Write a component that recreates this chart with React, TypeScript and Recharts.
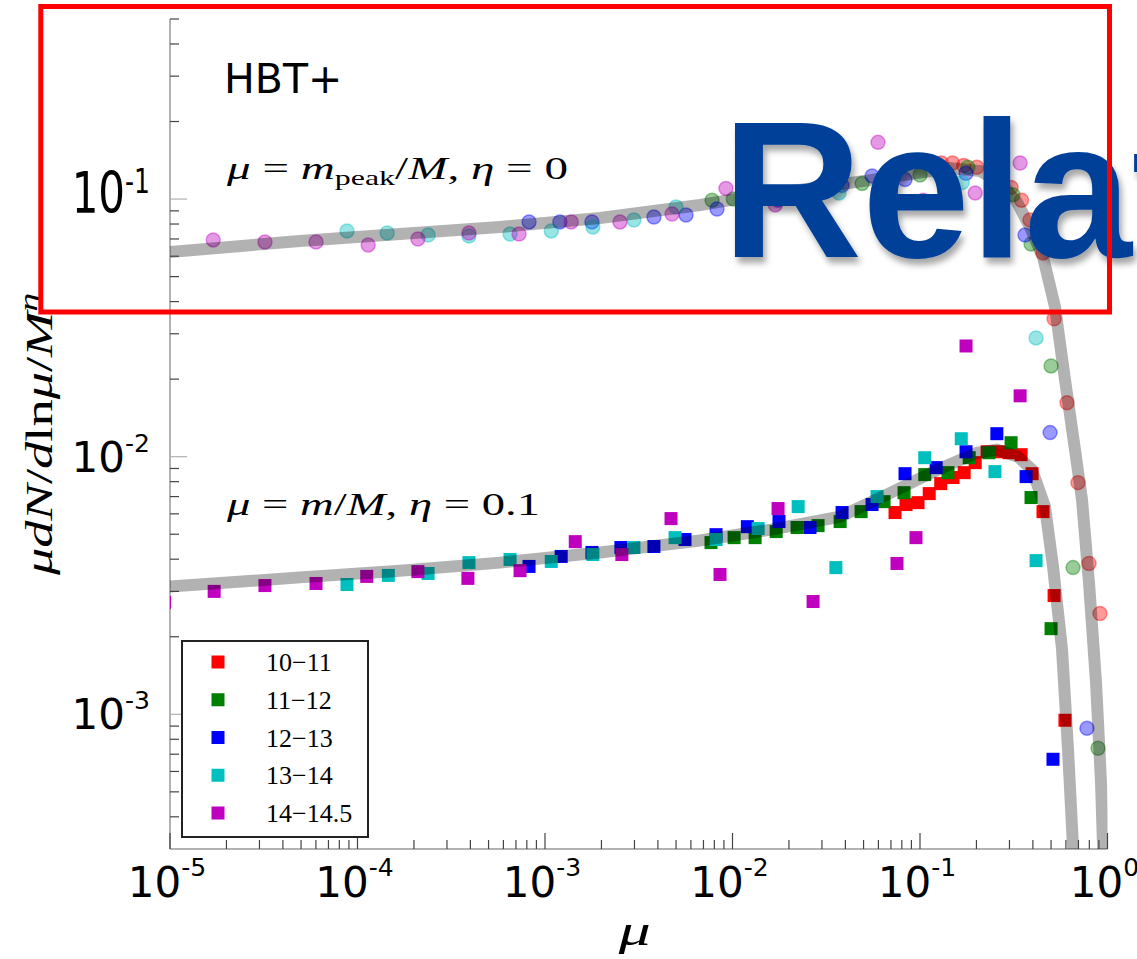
import React from 'react';
import { ComposedChart, Scatter, XAxis, YAxis, Legend } from 'recharts';

// host-halo mass bins (log10 M) and their matplotlib colours
const bins = ['10−11', '11−12', '12−13', '13−14', '14−14.5'];
const binColors = ['#ff0000', '#008000', '#0000ff', '#00bfbf', '#bf00bf'];

// mu = m_peak/M, eta = 0  -> circles, one list per bin: [mu, value]
const peakR = [[0.130, 0.138], [0.149, 0.138], [0.171, 0.135], [0.201, 0.133], [0.306, 0.111], [0.348, 0.099], [0.386, 0.083], [0.453, 0.0618], [0.519, 0.0343], [0.608, 0.0162], [0.696, 0.00793], [0.797, 0.00385], [0.912, 0.00246]];
const peakG = [[0.00778, 0.099], [0.0101, 0.100], [0.0491, 0.115], [0.100, 0.124], [0.180, 0.133], [0.313, 0.104], [0.391, 0.0669], [0.500, 0.0225], [0.655, 0.00371], [0.890, 0.000738]];
const peakB = [[0.000822, 0.0815], [0.00120, 0.0815], [0.00178, 0.0815], [0.00381, 0.0852], [0.00565, 0.0867], [0.00827, 0.0915], [0.0175, 0.099], [0.0384, 0.113], [0.0555, 0.123], [0.0832, 0.119], [0.176, 0.126], [0.363, 0.0725], [0.494, 0.0124], [0.777, 0.000882]];
const peakC = [[0.0000879, 0.0752], [0.000144, 0.0738], [0.000238, 0.0725], [0.000393, 0.0719], [0.000651, 0.0732], [0.00108, 0.0752], [0.00180, 0.0779], [0.00298, 0.083], [0.00500, 0.0931], [0.0370, 0.1055], [0.168, 0.116], [0.416, 0.0289]];
const peakM = [[0.0000170, 0.0694], [0.0000321, 0.0681], [0.0000601, 0.0681], [0.000114, 0.0663], [0.000210, 0.070], [0.000393, 0.0738], [0.000727, 0.0732], [0.00138, 0.0815], [0.00251, 0.0815], [0.00476, 0.0875], [0.00923, 0.110], [0.0169, 0.0948], [0.0597, 0.166], [0.104, 0.099], [0.197, 0.1055], [0.342, 0.138]];

// mu = m/M, eta = 0.1 -> squares
const boundR = [[0.0736, 0.00607], [0.0842, 0.00652], [0.0976, 0.00663], [0.112, 0.00719], [0.129, 0.00786], [0.150, 0.0083], [0.172, 0.00867], [0.197, 0.00948], [0.228, 0.01045], [0.264, 0.01045], [0.298, 0.01036], [0.346, 0.01018], [0.396, 0.00859], [0.453, 0.00612], [0.519, 0.00289], [0.593, 0.000948]];
const boundG = [[0.00768, 0.00464], [0.0102, 0.00485], [0.0132, 0.00485], [0.0171, 0.00512], [0.0221, 0.00531], [0.0286, 0.0054], [0.0375, 0.0056], [0.0485, 0.00612], [0.0643, 0.00669], [0.0822, 0.00725], [0.106, 0.00852], [0.141, 0.00867], [0.183, 0.00991], [0.233, 0.01036], [0.306, 0.01133], [0.391, 0.00694], [0.500, 0.00215]];
const boundB = [[0.000822, 0.00375], [0.00122, 0.0041], [0.00178, 0.00425], [0.00254, 0.00444], [0.00381, 0.00448], [0.00558, 0.00477], [0.00817, 0.00498], [0.0120, 0.00535], [0.0177, 0.0056], [0.0259, 0.00531], [0.0384, 0.00607], [0.0555, 0.00652], [0.0832, 0.00859], [0.122, 0.00907], [0.176, 0.01045], [0.257, 0.01228], [0.368, 0.00837], [0.512, 0.000669]];
const boundC = [[0.0000879, 0.00319], [0.000146, 0.00346], [0.000238, 0.00352], [0.000393, 0.00388], [0.000651, 0.00399], [0.00108, 0.00392], [0.00180, 0.00417], [0.00298, 0.00444], [0.00494, 0.00485], [0.00817, 0.00477], [0.0137, 0.00526], [0.0224, 0.0064], [0.0356, 0.00371], [0.0590, 0.0070], [0.106, 0.00991], [0.166, 0.01174], [0.251, 0.00875], [0.416, 0.00395]];
const boundM = [[0.00000935, 0.00272], [0.0000172, 0.0030], [0.0000321, 0.00316], [0.0000601, 0.00322], [0.000112, 0.00343], [0.000210, 0.00358], [0.000388, 0.00337], [0.000736, 0.00361], [0.00145, 0.00468], [0.00257, 0.00417], [0.00470, 0.00575], [0.00858, 0.00349], [0.0175, 0.00629], [0.0269, 0.00274], [0.0754, 0.00385], [0.0952, 0.00485], [0.176, 0.0269], [0.342, 0.01723]];

// model curves (thick translucent grey bands drawn over the points)
const peakModel = [[0.00001, 0.0623], [0.0000493, 0.0688], [0.0001685, 0.0732], [0.000575, 0.0779], [0.001965, 0.0844], [0.00671, 0.0948], [0.01402, 0.1036], [0.0293, 0.1113], [0.0541, 0.1185], [0.0885, 0.125], [0.1445, 0.1319], [0.2089, 0.1284], [0.2671, 0.1164], [0.3292, 0.0973], [0.386, 0.0779], [0.4529, 0.0596], [0.5248, 0.03815], [0.5934, 0.01988], [0.6709, 0.01064], [0.7311, 0.00681], [0.7966, 0.00325], [0.8684, 0.00133], [0.9233, 0.000545], [0.952, 0.00027]];
const boundModel = [[0.00001, 0.00313], [0.0000493, 0.0034], [0.0001685, 0.00361], [0.000575, 0.00388], [0.001965, 0.00425], [0.00671, 0.00473], [0.01604, 0.00521], [0.03745, 0.00585], [0.070, 0.00725], [0.131, 0.00907], [0.2014, 0.01036], [0.2574, 0.01064], [0.3333, 0.0100], [0.3957, 0.0089], [0.4642, 0.0064], [0.5121, 0.00375], [0.5722, 0.001786], [0.6157, 0.000731], [0.6546, 0.000308], [0.6626, 0.000274]];

const xDecades = [1e-5, 1e-4, 1e-3, 1e-2, 1e-1, 1];
const yDecades = [1e-4, 1e-3, 1e-2, 1e-1];
const xDomain = [1e-5, 1];
const yDomain = [3e-4, 0.5];

const withMinors = (decades: number[], lo: number, hi: number) =>
  decades
    .flatMap((d) => [1, 2, 3, 4, 5, 6, 7, 8, 9].map((k) => +(k * d).toPrecision(3)))
    .filter((v) => v >= lo * 1.0001 && v <= hi * 1.0001);

const xTicks = withMinors(xDecades, xDomain[0] / 1.001, xDomain[1]);
const yTicks = withMinors(yDecades, yDomain[0], yDomain[1]);

const toPts = (a: number[][]) => a.map(([x, y]) => ({ x, y }));
const isDecade = (v: number) => Math.abs(Math.log10(v) - Math.round(Math.log10(v))) < 1e-6;

const dot = (c: string) => (p: any) => (
  <circle cx={p.cx} cy={p.cy} r={7} fill={c} fillOpacity={0.4} stroke={c} strokeOpacity={0.4} strokeWidth={1.5} />
);
const square = (c: string) => (p: any) => (
  <rect x={p.cx - 6.5} y={p.cy - 6.5} width={13} height={13} fill={c} />
);
const noMarker = () => <g />;
const band = { stroke: '#000', strokeOpacity: 0.3, strokeWidth: 12, fill: 'none' };

const BottomTick = ({ x, y, payload }: any) => {
  const v = payload.value;
  const major = isDecade(v);
  const e = Math.round(Math.log10(v));
  return (
    <g>
      <line x1={x} x2={x} y1={y} y2={y - (major ? 16 : 9)} stroke="#444" strokeWidth={1.2} />
      {major && (
        <text x={x - 3} y={y + 48} textAnchor="middle" fontFamily="DejaVu Sans" fontSize={42} fill="#000">
          10<tspan fontSize={25} dy={-21}>{e}</tspan>
        </text>
      )}
    </g>
  );
};

const TopTick = ({ x, y, payload }: any) => {
  const major = isDecade(payload.value);
  return <line x1={x} x2={x} y1={y} y2={y + (major ? 16 : 8)} stroke="#444" strokeWidth={1.2} />;
};

const LeftTick = ({ x, y, payload }: any) => {
  const v = payload.value;
  const major = isDecade(v);
  const e = Math.round(Math.log10(v));
  const tall = e === -1;
  return (
    <g>
      <line x1={x} x2={x + (major ? 17 : 9)} y1={y} y2={y} stroke={major ? '#b0b0b0' : '#444'} strokeWidth={1.2} />
      {major && (
        <g transform={`translate(${x - 20}, ${y + (tall ? 14 : 15)}) scale(1, ${tall ? 1.37 : 1})`}>
          <text x={0} y={0} textAnchor="end" fontFamily="DejaVu Sans" fontSize={42} fill="#000">
            10<tspan fontSize={25} dy={tall ? -15 : -20}>{e}</tspan>
          </text>
        </g>
      )}
    </g>
  );
};

const RightTick = ({ x, y, payload }: any) => {
  const major = isDecade(payload.value);
  return <line x1={x} x2={x - (major ? 17 : 9)} y1={y} y2={y} stroke={major ? '#b0b0b0' : '#444'} strokeWidth={1.2} />;
};

const XTitle = ({ viewBox }: any) => (
  <text x={viewBox.x + viewBox.width / 2 - 4} y={viewBox.y + 96} textAnchor="middle" fontFamily="Liberation Serif"
    fontStyle="italic" fontSize={44} textLength={32} lengthAdjust="spacingAndGlyphs" fill="#000">μ</text>
);

const YTitle = ({ viewBox }: any) => (
  <text transform={`translate(52, ${viewBox.y + viewBox.height / 2}) rotate(-90)`} textAnchor="middle"
    fontFamily="Liberation Serif" fontSize={38} textLength={282} lengthAdjust="spacingAndGlyphs" fill="#000">
    <tspan fontStyle="italic">μdN</tspan>/<tspan fontStyle="italic">d</tspan>ln<tspan fontStyle="italic">μ</tspan>/<tspan fontStyle="italic">M</tspan>
    <tspan fontStyle="italic" fontSize={26} dy={-15}>η</tspan>
  </text>
);

const renderLegend = () => (
  <svg width={188} height={198} style={{ display: 'block' }}>
    <rect x={1} y={1} width={186} height={196} fill="#fff" stroke="#222" strokeWidth={2} />
    {bins.map((b, i) => (
      <g key={b}>
        <rect x={30.5} y={22 + i * 37.75 - 6.5} width={13} height={13} fill={binColors[i]} />
        <text x={85} y={22 + i * 37.75 + 9} fontFamily="Liberation Serif" fontSize={26} fill="#000">{b}</text>
      </g>
    ))}
  </svg>
);

const peakSets = [peakR, peakG, peakB, peakC, peakM];
const boundSets = [boundR, boundG, boundB, boundC, boundM];

export default function App() {
  return (
    <div style={{ position: 'absolute', left: 0, top: 0, width: 1137, height: 959, background: '#fff' }}>
      <ComposedChart width={1137} height={959} margin={{ top: 19, right: 29.5, bottom: 0, left: 0 }}>
        <XAxis dataKey="x" type="number" scale="log" domain={xDomain} allowDataOverflow ticks={xTicks} interval={0}
          height={110} tickSize={0} tickMargin={0} tickLine={false} tick={<BottomTick />}
          axisLine={{ stroke: '#999', strokeWidth: 1.5 }} label={<XTitle />} />
        <XAxis xAxisId="top" orientation="top" type="number" scale="log" domain={xDomain} allowDataOverflow ticks={xTicks}
          interval={0} height={0} tickSize={0} tickMargin={0} tickLine={false} tick={<TopTick />}
          axisLine={{ stroke: '#999', strokeWidth: 1.5 }} />
        <YAxis dataKey="y" type="number" scale="log" domain={yDomain} allowDataOverflow ticks={yTicks} interval={0}
          width={170} tickSize={0} tickMargin={0} tickLine={false} tick={<LeftTick />}
          axisLine={{ stroke: '#999', strokeWidth: 1.5 }} label={<YTitle />} />
        <YAxis yAxisId="right" orientation="right" type="number" scale="log" domain={yDomain} allowDataOverflow
          ticks={yTicks} interval={0} width={0} tickSize={0} tickMargin={0} tickLine={false} tick={<RightTick />}
          axisLine={{ stroke: '#999', strokeWidth: 1.5 }} />

        {peakSets.map((s, i) => (
          <Scatter key={'p' + i} name={bins[i]} data={toPts(s)} shape={dot(binColors[i])} legendType="none"
            isAnimationActive={false} />
        ))}
        {boundSets.map((s, i) => (
          <Scatter key={'b' + i} name={bins[i]} data={toPts(s)} shape={square(binColors[i])}
            isAnimationActive={false} />
        ))}

        <Scatter name="peak model" data={toPts(peakModel)} line={band} lineType="joint" shape={noMarker}
          legendType="none" isAnimationActive={false} />
        <Scatter name="bound model" data={toPts(boundModel)} line={band} lineType="joint" shape={noMarker}
          legendType="none" isAnimationActive={false} />

        <Legend layout="horizontal" verticalAlign="middle" align="center" content={renderLegend}
          wrapperStyle={{ position: 'absolute', left: 181, top: 640, width: 188, height: 198 }} />
      </ComposedChart>

      <svg width={1137} height={959} style={{ position: 'absolute', left: 0, top: 0, pointerEvents: 'none' }}>
        <defs>
          <filter id="shadow" x="-10%" y="-10%" width="130%" height="140%">
            <feDropShadow dx={3} dy={6} stdDeviation={3} floodColor="#000" floodOpacity={0.35} />
          </filter>
        </defs>
        <text x={224} y={93} fontFamily="DejaVu Sans" fontSize={41} fill="#000">HBT+</text>
        <text x={227} y={179} fontFamily="Liberation Serif" fontSize={31} textLength={341}
          lengthAdjust="spacingAndGlyphs" fill="#000">
          <tspan fontStyle="italic">μ</tspan>{' = '}<tspan fontStyle="italic">m</tspan>
          <tspan fontSize={21} dy={6}>peak</tspan>
          <tspan dy={-6}>/</tspan><tspan fontStyle="italic">M</tspan>{', '}<tspan fontStyle="italic">η</tspan>{' = 0'}
        </text>
        <text x={227} y={515} fontFamily="Liberation Serif" fontSize={31} textLength={313}
          lengthAdjust="spacingAndGlyphs" fill="#000">
          <tspan fontStyle="italic">μ</tspan>{' = '}<tspan fontStyle="italic">m</tspan>/<tspan fontStyle="italic">M</tspan>
          {', '}<tspan fontStyle="italic">η</tspan>{' = 0.1'}
        </text>
        <text x={722} y={257} fontFamily="Liberation Sans" fontWeight="bold" fontSize={194} fill="#004098"
          filter="url(#shadow)">Relat</text>
        <rect x={40.8} y={6.5} width={1068.7} height={305.5} fill="none" stroke="#ff0000" strokeWidth={5} />
      </svg>
    </div>
  );
}
